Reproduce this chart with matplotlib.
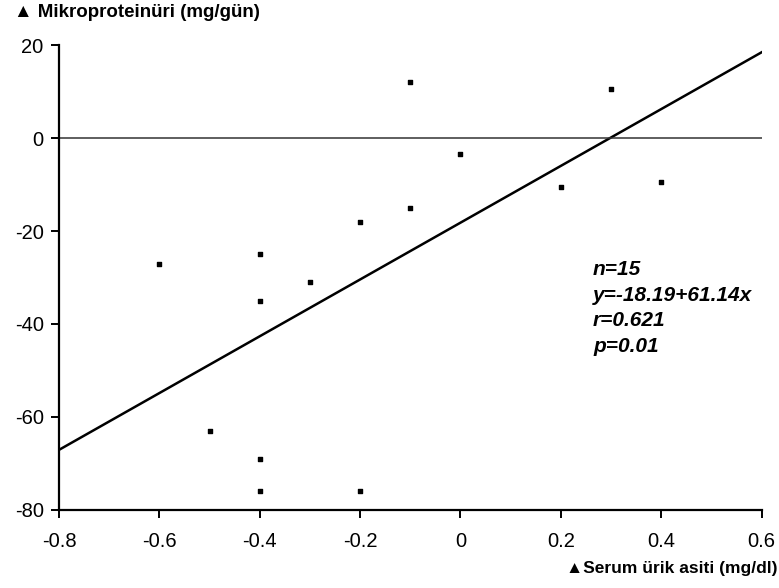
import numpy as np
import matplotlib.pyplot as plt

plt.rcParams['font.family'] = ['Liberation Sans', 'DejaVu Sans']
plt.rcParams['axes.unicode_minus'] = False

# degisim verileri (serum urik asit vs mikroproteinuri)
urik = [-0.6, -0.5, -0.4, -0.4, -0.4, -0.4, -0.3, -0.2, -0.2, -0.1, -0.1, 0.0, 0.2, 0.3, 0.4]
mikro = [-27, -63, -25, -35, -69, -76, -31, -18, -76, 12, -15, -3.5, -10.5, 10.5, -9.5]

a = -18.19  # sabit
b = 61.14   # egim
xticks = [-0.8, -0.6, -0.4, -0.2, 0, 0.2, 0.4, 0.6]
xlabels = ['-0.8', '-0.6', '-0.4', '-0.2', '0', '0.2', '0.4', '0.6']
yticks = [-80, -60, -40, -20, 0, 20]

fig = plt.figure(figsize=(7.79, 5.88), dpi=100)
ax = fig.add_axes([0.0757, 0.133, 0.902, 0.79])

ax.scatter(urik, mikro, s=9, marker='s', color='black', zorder=3)

xl = np.array([-0.8, 0.6])
ax.plot(xl, a + b * xl, color='black', lw=1.8)
ax.axhline(0, color='#333333', lw=1.1)

ax.set_xlim(-0.8, 0.6)
ax.set_ylim(-80, 20)
ax.set_xticks(xticks)
ax.set_xticklabels(xlabels)
ax.set_yticks(yticks)
for s in ['top', 'right']:
    ax.spines[s].set_visible(False)
for s in ['left', 'bottom']:
    ax.spines[s].set_linewidth(1.6)
ax.tick_params(direction='out', length=6, width=1.4, labelsize=14.5)
ax.tick_params(axis='x', pad=10)
ax.tick_params(axis='y', pad=5)

fig.text(0.018, 0.979, '▲ Mikroproteinüri (mg/gün)', fontsize=13.5, fontweight='bold',
         va='center', ha='left')
fig.text(0.998, 0.033, '▲Serum ürik asiti (mg/dl)', fontsize=12.5, fontweight='bold',
         va='center', ha='right')

txt = 'n=15\ny=-18.19+61.14x\nr=0.621\np=0.01'
ax.text(0.264, -26.2, txt, fontsize=15, style='italic', fontweight='bold',
        va='top', ha='left', linespacing=1.45)

plt.savefig('out.png', dpi=100)
